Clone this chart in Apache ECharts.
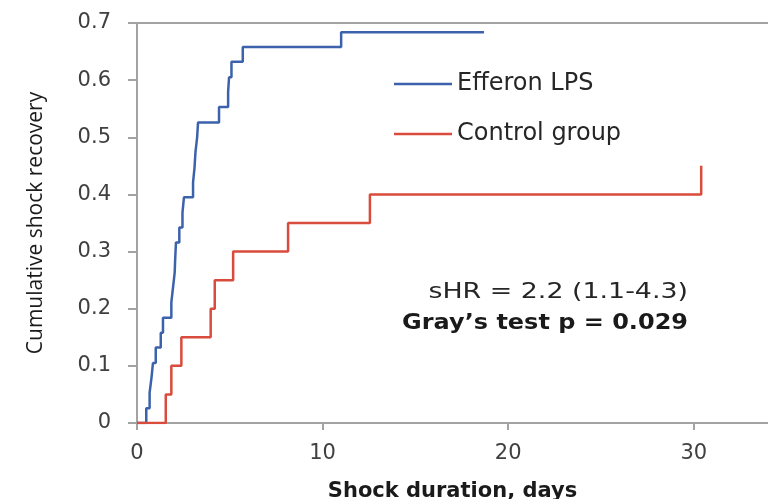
<!DOCTYPE html>
<html>
<head>
<meta charset="utf-8">
<script src="https://cdn.jsdelivr.net/npm/echarts@6/dist/echarts.min.js"></script>
<style>
  html, body { margin: 0; padding: 0; background: #fff; }
  #chart { width: 768px; height: 499px; }
</style>
</head>
<body>
<div id="chart"></div>
<script>
// cumulative shock recovery
var effDays = [0, 0.50, 0.68, 0.78, 0.86, 1.01, 1.28, 1.40, 1.85, 1.94, 2.03, 2.06, 2.10, 2.28, 2.45, 2.53,
  3.02, 3.10, 3.15, 3.24, 3.29, 4.42, 4.91, 4.96, 5.09, 5.70, 11.0, 18.7];
var effValues = [0, 0.026, 0.053, 0.079, 0.105, 0.132, 0.158, 0.184, 0.211, 0.237, 0.263, 0.289, 0.316, 0.342, 0.368, 0.395,
  0.421, 0.447, 0.474, 0.5, 0.526, 0.553, 0.579, 0.605, 0.632, 0.658, 0.684, 0.684];
var ctrlDays = [0, 1.55, 1.85, 2.39, 3.97, 4.19, 5.18, 8.14, 12.55, 30.4];
var ctrlValues = [0, 0.05, 0.10, 0.15, 0.20, 0.25, 0.30, 0.35, 0.40, 0.45];
var xTicks = [0, 10, 20, 30];
var seriesNames = ["Efferon LPS", "Control group"];

function pairs(xs, ys) {
  var out = [];
  for (var i = 0; i < xs.length; i++) out.push([xs[i], ys[i]]);
  return out;
}

var chart = echarts.init(document.getElementById("chart"));
var axisColor = "#a3a3a3";
var font = "'DejaVu Sans', sans-serif";

var option = {
  animation: false,
  color: ["#3c62ac", "#d94b3c"],
  grid: { left: 137, top: 23, bottom: 76, right: 0, outerBoundsMode: "none" },
  legend: {
    orient: "vertical",
    left: 394, top: 72,
    padding: 0,
    icon: "rect",
    itemWidth: 58, itemHeight: 2.5,
    itemGap: 26,
    data: seriesNames,
    textStyle: { fontFamily: font, fontSize: 24, color: "#262626", lineHeight: 22 }
  },
  xAxis: [
    {
      type: "value",
      min: 0, max: 34, interval: 10,
      name: "Shock duration, days",
      nameLocation: "middle",
      nameGap: 58,
      nameTextStyle: { fontFamily: font, fontSize: 21, fontWeight: "bold", color: "#1a1a1a" },
      axisLine: { lineStyle: { color: axisColor, width: 2 } },
      axisTick: { show: true, length: 7, lineStyle: { color: axisColor, width: 2 }, customValues: xTicks },
      axisLabel: { margin: 20, fontFamily: font, fontSize: 21, color: "#404040", customValues: xTicks },
      splitLine: { show: false }
    },
    {
      // top frame line only
      type: "value", position: "top",
      min: 0, max: 34,
      axisLine: { show: true, lineStyle: { color: axisColor, width: 2 } },
      axisTick: { show: false },
      axisLabel: { show: false },
      splitLine: { show: false }
    }
  ],
  yAxis: {
    type: "value",
    min: 0, max: 0.7, interval: 0.1,
    name: "Cumulative shock recovery",
    nameLocation: "middle",
    nameGap: 90,
    nameTextStyle: { fontFamily: "'Liberation Sans Narrow', 'Open Sans', sans-serif", fontSize: 21, color: "#1a1a1a" },
    axisLine: { show: true, lineStyle: { color: axisColor, width: 2 } },
    axisTick: { show: true, length: 9, lineStyle: { color: axisColor, width: 2 } },
    axisLabel: { margin: 26, fontFamily: font, fontSize: 21, color: "#404040",
      formatter: function (v) { return v === 0 ? "0" : v.toFixed(1); } },
    splitLine: { show: false }
  },
  graphic: [
    { type: "text", x: 688, y: 292, scaleX: 1.22,
      style: { text: "sHR = 2.2 (1.1-4.3)", font: "22px " + font, fill: "#262626",
        textAlign: "right", textVerticalAlign: "middle" } },
    { type: "text", x: 688, y: 323, scaleX: 1.09,
      style: { text: "Gray\u2019s test p = 0.029", font: "bold 22px " + font, fill: "#1a1a1a",
        textAlign: "right", textVerticalAlign: "middle" } }
  ],
  series: [
    {
      name: seriesNames[0], type: "line", step: "end", symbol: "none",
      lineStyle: { width: 2.5 },
      data: pairs(effDays, effValues)
    },
    {
      name: seriesNames[1], type: "line", step: "end", symbol: "none",
      lineStyle: { width: 2.5 },
      data: pairs(ctrlDays, ctrlValues)
    }
  ]
};
chart.setOption(option);
</script>
</body>
</html>
